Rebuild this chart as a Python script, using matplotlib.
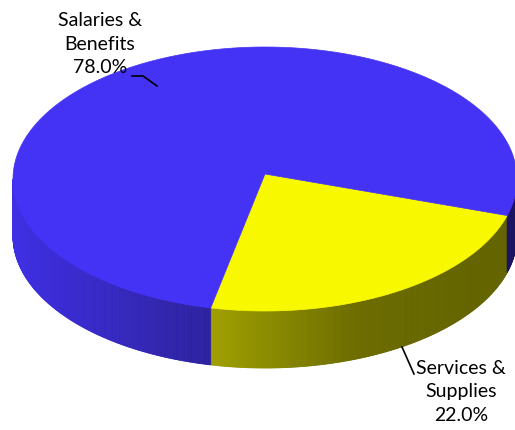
import numpy as np
import matplotlib.pyplot as plt
from matplotlib.colors import to_rgb
from matplotlib.patches import Polygon

# Expense breakdown
labels = ['Salaries &\nBenefits', 'Services &\nSupplies']
values = [78.0, 22.0]
colors = ['#4433F5', '#F8F800']

# Ellipse geometry of the pie top (pixel space, y grows downward)
cx, cy = 265, 180
rx, ry = 252, 132
depth = 57
start = -22.0   # degrees, slices run clockwise from here
persp = 6.4     # fake perspective: front of the disc looks wider

fig = plt.figure(figsize=(5.15, 4.31), dpi=100)
ax = fig.add_axes([0, 0, 1, 1])
ax.set_xlim(0, 515)
ax.set_ylim(431, 0)
ax.axis('off')


def warp(phi):
    return phi + persp * np.cos(np.radians(phi))


def pt(t, dz=0):
    r = np.radians(t)
    return cx + rx * np.cos(r), cy - ry * np.sin(r) + dz


def shade(x):
    return np.interp(x, [13, 213, 360, 515], [0.93, 0.64, 0.43, 0.40])


# angle span of each slice, going clockwise from start (services first)
total = sum(values)
cut = start - 360 * values[1] / total
spans = {1: (warp(cut), warp(start)),
         0: (warp(start) - 360, warp(cut))}

# side walls: only the front half (angles between -180 and 0) is visible
for i, (t0, t1) in spans.items():
    base = np.array(to_rgb(colors[i]))
    for off in (0, -360):
        lo, hi = max(t0, -180 + off), min(t1, off)
        if hi <= lo:
            continue
        ts = np.linspace(lo, hi, int((hi - lo) * 3) + 2)
        for ta, tb in zip(ts[:-1], ts[1:]):
            xa, ya = pt(ta)
            xb, yb = pt(tb)
            c = np.clip(base * shade((xa + xb) / 2), 0, 1)
            ax.add_patch(Polygon([(xa, ya), (xb, yb), (xb, yb + depth), (xa, ya + depth)],
                                 closed=True, facecolor=c, edgecolor=c, lw=0.6))

# top faces
for i, (t0, t1) in spans.items():
    ts = np.linspace(t0, t1, 400)
    poly = [(cx, cy - 5)] + [pt(t) for t in ts]
    ax.add_patch(Polygon(poly, closed=True, facecolor=colors[i], edgecolor=colors[i], lw=0.5))

# labels with leader lines
ax.plot([132, 143, 157], [77, 77, 87], color='black', lw=1.2)
ax.text(100, 44, f'{labels[0]}\n{values[0]:.1f}%', ha='center', va='center',
        fontsize=14, family='Lato', linespacing=1.45)
ax.plot([402, 414], [348, 375], color='black', lw=1.2)
ax.text(461, 392, f'{labels[1]}\n{values[1]:.1f}%', ha='center', va='center',
        fontsize=14, family='Lato', linespacing=1.45)

fig.savefig('out.png', dpi=100)
